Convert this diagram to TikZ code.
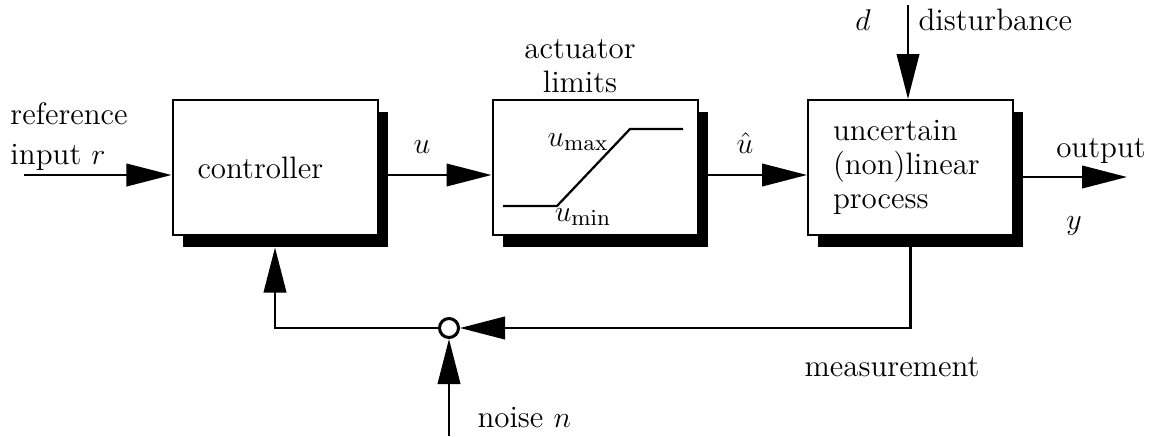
\documentclass[tikz,border=0pt]{standalone}
\usepackage{amsmath}
\usetikzlibrary{arrows.meta,positioning,shadows,calc}

\tikzset{
  block/.style={draw,line width=0.8pt,fill=white,minimum width=82pt,minimum height=54pt,
    text width=62pt,align=left,inner xsep=10pt,
    drop shadow={shadow xshift=4pt,shadow yshift=-4.6pt,opacity=1,fill=black}},
  sig/.style={line width=0.9pt,-{Triangle[length=18pt,width=9pt]}},
  sumpt/.style={circle,draw,line width=1.2pt,fill=white,minimum size=7.6pt,inner sep=0pt},
  lbl/.style={inner sep=0pt}
}

\begin{document}
\begin{tikzpicture}[x=0.4pt,y=0.4pt,font=\fontsize{12.4}{13.5}\selectfont]
\useasboundingbox (0,0) rectangle (1160,436);

% Bloques
\node[block] (ctrl) at (275,268.5) {controller};
\node[block] (act)  at (595,268.5) {};
\node[block] (proc) at (910.5,268.5) {uncertain\\(non)linear\\process};

% Saturacion del actuador
\draw[line width=0.9pt] (503,230) -- (557,230) -- (630,307) -- (683,307);
\node[lbl] (umax) at (578,294) {$u_{\max}$};
\node[lbl] (umin) at (583,219) {$u_{\min}$};

% Puntos auxiliares
\coordinate (rin)  at (24,261);
\coordinate (yout) at (1127,259);
\coordinate (dtop) at (908,431);
\coordinate (nbot) at (449,0);
\node[sumpt] (sum) at (449,108) {};

% Senales
\draw[sig] (rin) -- (rin -| ctrl.west);
\draw[sig] ([yshift=-3pt]ctrl.east) -- ([yshift=-3pt]act.west);
\draw[sig] ([yshift=-3pt]act.east) -- ([yshift=-3pt]proc.west);
\draw[sig] (yout -| proc.east) -- (yout);
\draw[sig] (dtop) -- (dtop |- proc.north);
\draw[sig] (proc.south) |- (sum.east);
\draw[sig] (sum.west) -| ([yshift=-4.6pt]ctrl.south);
\draw[sig] (nbot) -- (sum.south);

% Textos
\node[lbl,anchor=west,align=left] (reflab) at (10,299.5) {reference\\[2.5pt]input $r$};
\node[lbl,anchor=south,align=center] (actlab) at (580,343) {actuator\\limits};
\node[lbl] (ulab)  at (422,289) {$u$};
\node[lbl] (uhlab) at (745,293) {$\hat{u}$};
\node[lbl] (dlab)  at (863,416) {$d$};
\node[lbl,anchor=west] (distlab) at (918,416) {disturbance};
\node[lbl] (outlab) at (1101,285) {output};
\node[lbl] (ylab)   at (1074,210) {$y$};
\node[lbl] (measlab) at (892,69) {measurement};
\node[lbl,anchor=west] (noiselab) at (477,18.5) {noise $n$};

\end{tikzpicture}
\end{document}
